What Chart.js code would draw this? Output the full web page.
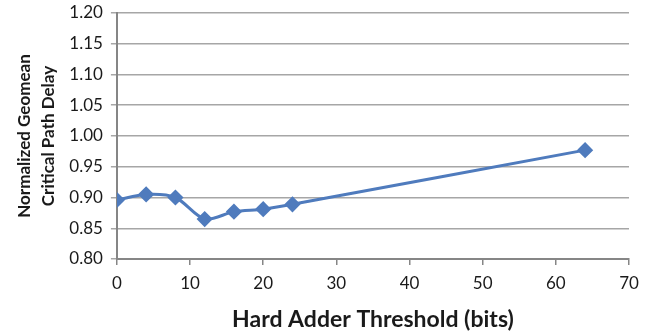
<!DOCTYPE html>
<html lang="en">
<head>
  <meta charset="UTF-8" />
  <title>Hard Adder Threshold</title>
  <script src="https://cdn.jsdelivr.net/npm/chart.js"></script>
  <style>
    body { margin: 0; background: #fff; }
    #wrap { width: 660px; height: 333px; position: relative; }
  </style>
</head>
<body>
  <div id="wrap"><canvas id="delayChart"></canvas></div>
  <script>
    // data
    const thresholds = [0, 4, 8, 12, 16, 20, 24, 64];
    const delay = [0.896, 0.905, 0.900, 0.865, 0.877, 0.881, 0.889, 0.977];
    const xTicks = [0, 10, 20, 30, 40, 50, 60, 70];
    const yTicks = [0.80, 0.85, 0.90, 0.95, 1.00, 1.05, 1.10, 1.15, 1.20];

    const blue = '#4f7bbd';
    const gridGray = '#a6a6a6';
    const axisGray = '#868686';
    const fontFam = 'Lato, "Open Sans", sans-serif';

    const ctx = document.getElementById('delayChart').getContext('2d');
    new Chart(ctx, {
      type: 'line',
      data: {
        datasets: [{
          data: thresholds.map((x, i) => ({ x: x, y: delay[i] })),
          borderColor: blue,
          backgroundColor: blue,
          borderWidth: 3,
          tension: 0.3,
          pointStyle: 'rectRot',
          pointRadius: 6,
          pointHoverRadius: 6,
        }],
      },
      options: {
        responsive: true,
        maintainAspectRatio: false,
        animation: false,
        layout: { padding: { left: 8, right: 31, top: 0, bottom: -4 } },
        plugins: { legend: { display: false }, tooltip: { enabled: false } },
        scales: {
          x: {
            type: 'linear',
            min: 0,
            max: 70,
            afterBuildTicks: (axis) => { axis.ticks = xTicks.map(v => ({ value: v })); },
            grid: { drawOnChartArea: false, tickLength: 6, color: axisGray, lineWidth: 1.5 },
            border: { color: axisGray, width: 2 },
            ticks: { color: '#1a1a1a', font: { family: fontFam, size: 17 }, padding: 8 },
            title: {
              display: true,
              text: 'Hard Adder Threshold (bits)',
              color: '#1a1a1a',
              font: { family: fontFam, size: 23, weight: 'bold' },
              padding: { top: 4 },
            },
          },
          y: {
            min: 0.8,
            max: 1.2,
            afterBuildTicks: (axis) => { axis.ticks = yTicks.map(v => ({ value: v })); },
            // less room above the top tick than the default
            afterFit: (axis) => { axis.paddingTop = 13; },
            grid: { color: gridGray, lineWidth: 1.5, tickLength: 6, tickColor: gridGray },
            border: { color: axisGray, width: 2 },
            ticks: {
              color: '#1a1a1a',
              font: { family: fontFam, size: 17 },
              padding: 8,
              callback: (v) => v.toFixed(2),
            },
            title: {
              display: true,
              text: ['Normalized Geomean', 'Critical Path Delay'],
              color: '#1a1a1a',
              font: { family: fontFam, size: 17, weight: 'bold', lineHeight: 1.45 },
              padding: { bottom: 0 },
            },
          },
        },
      },
    });
  </script>
</body>
</html>
